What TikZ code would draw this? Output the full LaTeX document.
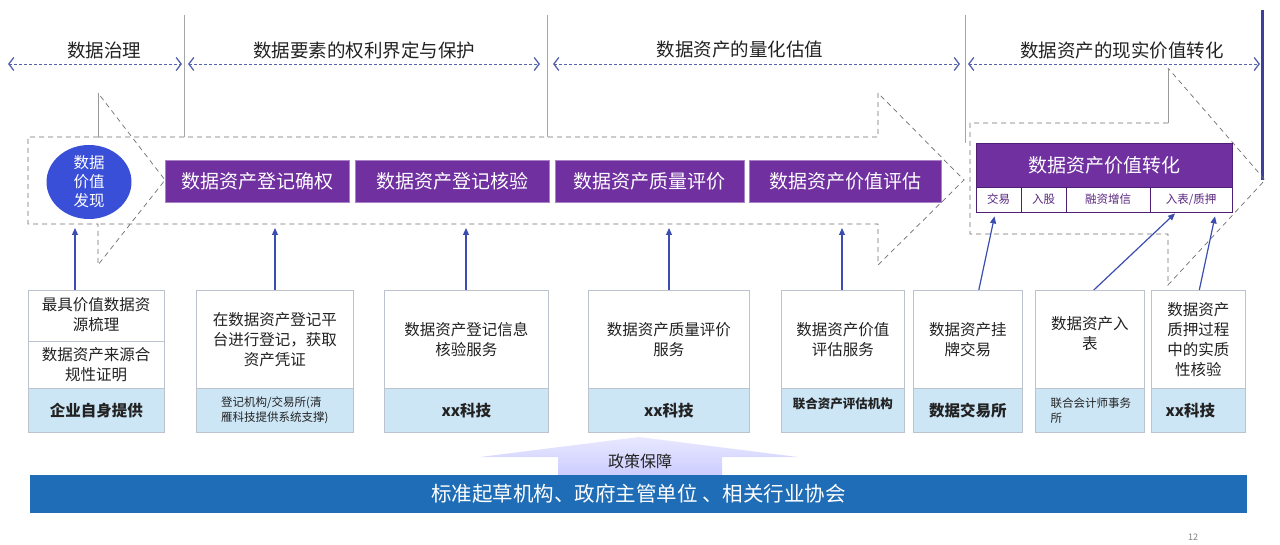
\documentclass[tikz,border=0pt]{standalone}
\usepackage{fontspec}
\setmainfont{Noto Sans CJK SC}
\usetikzlibrary{arrows.meta,calc,shapes.geometric}
\definecolor{pur}{HTML}{7030A0}
\definecolor{purdark}{HTML}{4E1F72}
\definecolor{hdrblue}{HTML}{5563AA}
\definecolor{arrblue}{HTML}{3B4DB0}
\definecolor{circblue}{HTML}{3A4FD8}
\definecolor{cardblue}{HTML}{CCE6F6}
\definecolor{cardedge}{HTML}{BCC3CF}
\definecolor{band}{HTML}{1F6DB6}
\definecolor{dashgray}{HTML}{6E6E6E}
\definecolor{txt}{HTML}{222222}
\definecolor{thickblue}{HTML}{3C3F9C}
\tikzset{
  hdr/.style={draw=hdrblue, densely dashed, line width=0.9pt,
    {Straight Barb[length=5pt,width=13pt,line width=1.3pt]}-{Straight Barb[length=5pt,width=13pt,line width=1.3pt]}},
  sepline/.style={draw=gray!70, line width=0.7pt},
  dashbox/.style={draw=dashgray, dashed, dash pattern=on 5pt off 4pt, line width=0.7pt},
  solidedge/.style={draw=gray!80, line width=0.7pt},
  hdrtext/.style={font=\fontsize{18.5}{20}\selectfont, text=txt},
  purbox/.style={fill=pur, draw=pur!60!white, line width=0.6pt, text=white,
    font=\fontsize{19}{21}\selectfont, minimum height=42pt, inner sep=0pt},
  subbox/.style={fill=white, draw=purdark, line width=0.8pt, text=pur!80!black,
    font=\fontsize{11.5}{13}\selectfont, minimum height=25pt, inner sep=0pt},
  cardtop/.style={draw=cardedge, fill=white, line width=0.6pt, anchor=north west,
    minimum height=98pt, inner sep=0pt},
  cardbot/.style={draw=cardedge, fill=cardblue, line width=0.6pt, anchor=north west,
    minimum height=44pt, inner sep=0pt},
  cardtxt/.style={align=center, font=\fontsize{15.5}{20}\selectfont, text=txt},
  boldlab/.style={font=\fontsize{15.5}{18}\selectfont\bfseries, text=txt},
  smalllab/.style={font=\fontsize{11.5}{15}\selectfont, text=txt},
  uparr/.style={draw=arrblue, line width=1.2pt, -{Triangle[length=7pt,width=6pt]}},
}
\begin{document}
\begin{tikzpicture}[x=1pt,y=-1pt]
\useasboundingbox (0,0) rectangle (1280,545);

% ---- headers
\node[hdrtext] (h1) at (104,50) {数据治理};
\node[hdrtext] (h2) at (364,50) {数据要素的权利界定与保护};
\node[hdrtext] (h3) at (740,50) {数据资产的量化估值};
\node[hdrtext] (h4) at (1122,50) {数据资产的现实价值转化};
\coordinate (p1a) at (8,64);   \coordinate (p1b) at (182,64);
\coordinate (p2a) at (188,64); \coordinate (p2b) at (540,64);
\coordinate (p3a) at (553,64); \coordinate (p3b) at (960,64);
\coordinate (p4a) at (968,64); \coordinate (p4b) at (1260,64);
\draw[hdr] (p1a) -- (p1b);
\draw[hdr] (p2a) -- (p2b);
\draw[hdr] (p3a) -- (p3b);
\draw[hdr] (p4a) -- (p4b);
\draw[sepline] (184,15) -- (184,137);
\draw[sepline] (547,15) -- (547,137);
\draw[sepline] (965,15) -- (965,143);
\draw[draw=thickblue, line width=3pt] (1262,10) -- (1262,180);

% ---- big dashed arrow
\draw[dashbox] (98,137) -- (878,137) -- (878,93) -- (964,180) -- (878,265) -- (878,224) -- (98,224);
\draw[dashbox] (98,137) -- (28,137) -- (28,224) -- (98,224) -- (98,265) -- (165,180) -- (98,93);
\draw[solidedge] (98,93) -- (98,137);

% ---- right dashed arrow
\draw[dashbox] (1168,123) -- (970,123) -- (970,234) -- (1168,234) -- (1168,285) -- (1265,180) -- (1168,68);
\draw[solidedge] (1168,68) -- (1168,123);

% ---- circle
\node[ellipse, fill=circblue, minimum width=85pt, minimum height=74pt, inner sep=0pt,
  text=white, align=center, font=\fontsize{15.5}{19}\selectfont] (circ) at (89,182) {数据\\价值\\发现};

% ---- purple steps
\node[purbox, minimum width=184pt] (b1) at (257,181) {数据资产登记确权};
\node[purbox, minimum width=194pt] (b2) at (452,181) {数据资产登记核验};
\node[purbox, minimum width=189pt] (b3) at (649.5,181) {数据资产质量评价};
\node[purbox, minimum width=192pt] (b4) at (845,181) {数据资产价值评估};

% ---- value conversion block
\node[purbox, minimum width=256pt, minimum height=44pt, draw=purdark] (b5) at (1104,165) {数据资产价值转化};
\node[subbox, minimum width=45pt] (s1) at (998.5,199.5) {交易};
\node[subbox, minimum width=45pt] (s2) at (1043.5,199.5) {入股};
\node[subbox, minimum width=84pt] (s3) at (1108,199.5) {融资增信};
\node[subbox, minimum width=82pt] (s4) at (1191,199.5) {入表/质押};

% ---- cards
\node[cardtop, minimum width=136pt] (c1) at (28,290) {};
\node[cardbot, minimum width=136pt] (d1) at (28,388) {};
\node[cardtop, minimum width=157pt] (c2) at (196,290) {};
\node[cardbot, minimum width=157pt] (d2) at (196,388) {};
\node[cardtop, minimum width=164pt] (c3) at (384,290) {};
\node[cardbot, minimum width=164pt] (d3) at (384,388) {};
\node[cardtop, minimum width=161pt] (c4) at (588,290) {};
\node[cardbot, minimum width=161pt] (d4) at (588,388) {};
\node[cardtop, minimum width=123pt] (c5) at (781,290) {};
\node[cardbot, minimum width=123pt] (d5) at (781,388) {};
\node[cardtop, minimum width=109pt] (c6) at (913,290) {};
\node[cardbot, minimum width=109pt] (d6) at (913,388) {};
\node[cardtop, minimum width=109pt] (c7) at (1035,290) {};
\node[cardbot, minimum width=109pt] (d7) at (1035,388) {};
\node[cardtop, minimum width=94pt] (c8) at (1151,290) {};
\node[cardbot, minimum width=94pt] (d8) at (1151,388) {};
\draw[draw=cardedge, line width=0.6pt] (c1.west |- 0,341) -- (c1.east |- 0,341);

\node[cardtxt] (t1a) at (96,315) {最具价值数据资\\源梳理};
\node[cardtxt] (t1b) at (96,365) {数据资产来源合\\规性证明};
\node[cardtxt] (t2) at (c2.center) {在数据资产登记平\\台进行登记，获取\\资产凭证};
\node[cardtxt] (t3) at (c3.center) {数据资产登记信息\\核验服务};
\node[cardtxt] (t4) at (c4.center) {数据资产质量评价\\服务};
\node[cardtxt] (t5) at (c5.center) {数据资产价值\\评估服务};
\node[cardtxt] (t6) at (c6.center) {数据资产挂\\牌交易};
\node[cardtxt] (t7) at ($(c7.center)+(0,-6)$) {数据资产入\\表};
\node[cardtxt] (t8) at (c8.center) {数据资产\\质押过程\\中的实质\\性核验};

\node[boldlab] (l1) at (d1.center) {企业自身提供};
\node[smalllab, align=left] (l2) at (d2.center) {登记机构/交易所(清\\雁科技提供系统支撑)};
\node[boldlab] (l3) at (d3.center) {xx科技};
\node[boldlab] (l4) at (d4.center) {xx科技};
\node[boldlab, font=\fontsize{12.5}{15}\selectfont\bfseries] (l5) at ($(d5.center)+(0,-6)$) {联合资产评估机构};
\node[boldlab] (l6) at (d6.center) {数据交易所};
\node[smalllab, align=left, anchor=west] (l7) at ($(d7.west)+(12,0)$) {联合会计师事务\\所};
\node[boldlab] (l8) at ($(d8.center)+(-8,0)$) {xx科技};

% ---- arrows up
\coordinate (e1) at (75,228);
\coordinate (e2) at (275,228);
\coordinate (e3) at (466,228);
\coordinate (e4) at (669,228);
\coordinate (e5) at (842,228);
\draw[uparr] (e1 |- c1.north) -- (e1);
\draw[uparr] (e2 |- c2.north) -- (e2);
\draw[uparr] (e3 |- c3.north) -- (e3);
\draw[uparr] (e4 |- c4.north) -- (e4);
\draw[uparr] (e5 |- c5.north) -- (e5);
\draw[uparr] ($(c6.north)+(11,0)$) -- ($(s1.south)+(-4,4)$);
\draw[uparr] ($(c7.north)+(4,0)$) -- ($(s4.south)+(-16,1)$);
\draw[uparr] ($(c8.north)+(1,0)$) -- ($(s4.south)+(24,4)$);

% ---- policy arrow and band
\path[top color=white!85!blue!60, bottom color=blue!20, shading angle=0]
  (480,457) -- (639,437) -- (798,457) -- (722,457) -- (722,476) -- (558,476) -- (558,457) -- cycle;
\node[font=\fontsize{16}{18}\selectfont, text=txt] (pol) at (640,461) {政策保障};
\node[fill=band, minimum width=1217pt, minimum height=38pt, inner sep=0pt, text=white,
  font=\fontsize{20.5}{22}\selectfont] (bandn) at (638.5,494) {标准起草机构、政府主管单位 、相关行业协会};
\node[font=\fontsize{9}{10}\selectfont, text=gray] (pg) at (1193,537) {12};
\end{tikzpicture}
\end{document}
